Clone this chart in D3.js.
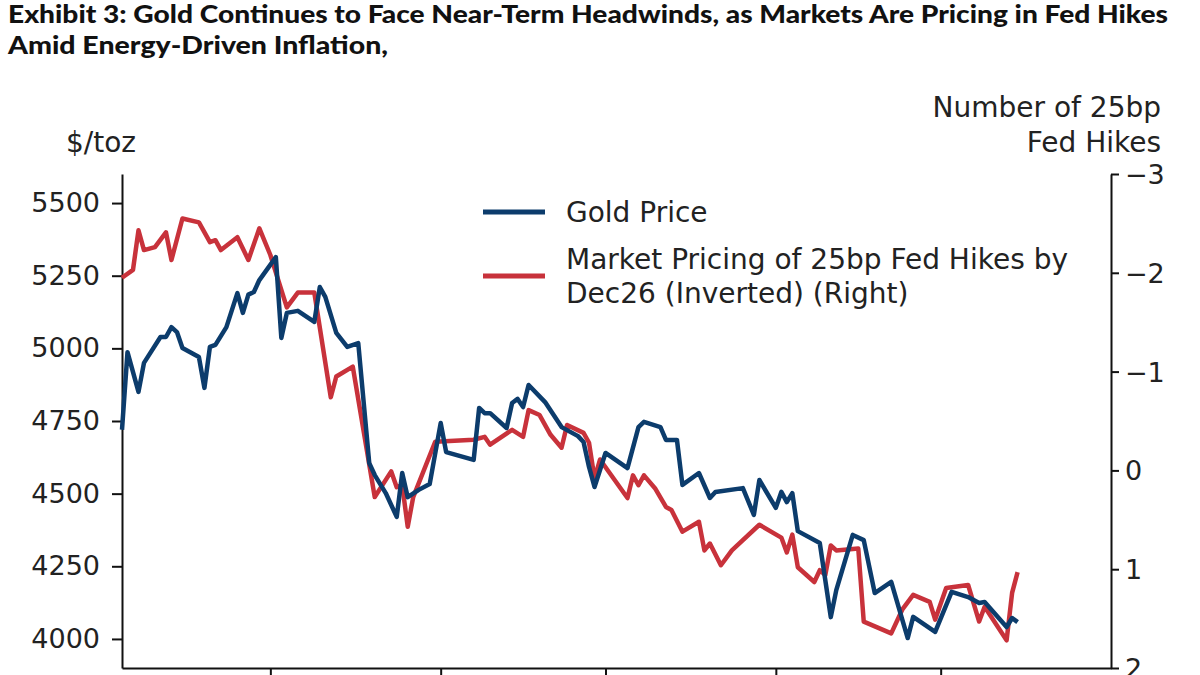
<!DOCTYPE html>
<html>
<head>
<meta charset="utf-8">
<script src="https://cdn.jsdelivr.net/npm/d3@7"></script>
<style>
  body { margin: 0; background: #fff; }
  text { fill: #222; }
</style>
</head>
<body>
<div id="chart"></div>
<script>
// Chart size
var chart_width  = 1200;
var chart_height = 675;

// Data
var goldDates = ['2026-02-02','2026-02-03','2026-02-05','2026-02-06','2026-02-09','2026-02-10','2026-02-11','2026-02-12',
  '2026-02-13','2026-02-16','2026-02-17','2026-02-18','2026-02-19','2026-02-21','2026-02-23','2026-02-24','2026-02-25',
  '2026-02-26','2026-02-27','2026-03-02','2026-03-03','2026-03-04','2026-03-06','2026-03-09','2026-03-10','2026-03-11',
  '2026-03-13','2026-03-15','2026-03-17','2026-03-19','2026-03-20','2026-03-22','2026-03-24','2026-03-25','2026-03-26',
  '2026-03-28','2026-03-30','2026-04-01','2026-04-02','2026-04-07','2026-04-08','2026-04-09','2026-04-10','2026-04-13',
  '2026-04-14','2026-04-15','2026-04-16','2026-04-17','2026-04-20','2026-04-23','2026-04-26','2026-04-27','2026-04-28',
  '2026-04-29','2026-05-01','2026-05-05','2026-05-07','2026-05-08','2026-05-11','2026-05-12','2026-05-14','2026-05-15',
  '2026-05-18','2026-05-20','2026-05-21','2026-05-26','2026-05-28','2026-05-29','2026-06-01','2026-06-02','2026-06-03',
  '2026-06-04','2026-06-05','2026-06-09','2026-06-11','2026-06-12','2026-06-15','2026-06-17','2026-06-19','2026-06-22',
  '2026-06-25','2026-06-26','2026-06-30','2026-07-03','2026-07-06','2026-07-08','2026-07-09','2026-07-13','2026-07-14',
  '2026-07-15'];
var goldPrice = [4720,4987,4850,4950,5039,5039,5073,5056,
  5001,4970,4864,5005,5012,5073,5190,5122,5185,
  5194,5235,5314,5036,5122,5129,5091,5211,5177,
  5053,5005,5018,4605,4564,4502,4420,4571,4488,
  4513,4533,4743,4643,4616,4795,4777,4777,4726,
  4812,4826,4798,4874,4815,4729,4698,4678,4592,
  4523,4640,4588,4729,4747,4729,4685,4685,4530,
  4571,4485,4506,4519,4427,4547,4451,4506,4471,
  4502,4371,4330,4075,4168,4358,4340,4158,4196,
  4003,4076,4024,4162,4144,4124,4127,4041,4072,
  4058];

var hikeDates = ['2026-02-02','2026-02-04','2026-02-05','2026-02-06','2026-02-08','2026-02-10','2026-02-11','2026-02-13',
  '2026-02-16','2026-02-18','2026-02-19','2026-02-20','2026-02-23','2026-02-25','2026-02-27','2026-03-01','2026-03-04',
  '2026-03-06','2026-03-09','2026-03-12','2026-03-13','2026-03-16','2026-03-20','2026-03-23','2026-03-24','2026-03-25',
  '2026-03-26','2026-03-27','2026-03-31','2026-04-07','2026-04-09','2026-04-10','2026-04-14','2026-04-16','2026-04-17',
  '2026-04-19','2026-04-21','2026-04-23','2026-04-24','2026-04-27','2026-04-28','2026-04-29','2026-04-30','2026-05-05',
  '2026-05-06','2026-05-07','2026-05-08','2026-05-10','2026-05-12','2026-05-13','2026-05-15','2026-05-18','2026-05-19',
  '2026-05-20','2026-05-22','2026-05-24','2026-05-29','2026-06-02','2026-06-03','2026-06-04','2026-06-05','2026-06-08',
  '2026-06-09','2026-06-10','2026-06-11','2026-06-12','2026-06-16','2026-06-17','2026-06-22','2026-06-24','2026-06-26',
  '2026-06-29','2026-06-30','2026-07-02','2026-07-06','2026-07-08','2026-07-09','2026-07-13','2026-07-14','2026-07-15'];
// number of 25bp hikes, inverted on the right axis
var hikePricing = [-1.95,-2.03,-2.43,-2.23,-2.26,-2.41,-2.13,-2.55,
  -2.51,-2.31,-2.33,-2.23,-2.36,-2.13,-2.45,-2.18,-1.65,
  -1.80,-1.80,-0.74,-0.95,-1.05,0.27,0.01,0.17,0.15,
  0.57,0.27,-0.29,-0.31,-0.34,-0.26,-0.41,-0.34,-0.61,
  -0.56,-0.36,-0.23,-0.46,-0.38,-0.28,0.08,-0.11,0.28,
  0.05,0.15,0.05,0.18,0.37,0.40,0.62,0.52,0.81,
  0.74,0.96,0.81,0.55,0.68,0.83,0.65,0.98,1.13,
  1.01,1.06,0.76,0.81,0.79,1.53,1.65,1.41,1.26,
  1.33,1.51,1.19,1.16,1.53,1.38,1.72,1.24,1.03];

var leftTicks  = [4000, 4250, 4500, 4750, 5000, 5250, 5500];
var rightTicks = [-3, -2, -1, 0, 1, 2];
var monthTicks = ['2026-03-01','2026-04-01','2026-05-01','2026-06-01','2026-07-01'];
var xDomain    = ['2026-02-02', '2026-08-01'];

var titleLines = ['Exhibit 3: Gold Continues to Face Near-Term Headwinds, as Markets Are Pricing in Fed Hikes',
                  'Amid Energy-Driven Inflation,'];
var legendLabels = [['Gold Price'], ['Market Pricing of 25bp Fed Hikes by', 'Dec26 (Inverted) (Right)']];

var gold_color = '#0c3c6c';
var hike_color = '#c8323b';

var parse = d3.timeParse('%Y-%m-%d');

var svg = d3.select('#chart')
  .append('svg')
  .attr('width', chart_width)
  .attr('height', chart_height);

// Title
svg.selectAll('.title')
  .data(titleLines)
  .enter()
  .append('text')
  .attr('class', 'title')
  .attr('x', 8)
  .attr('y', function(d, i){ return 23 + i * 31; })
  .attr('textLength', function(d, i){ return i === 0 ? 1160 : 380; })
  .attr('lengthAdjust', 'spacingAndGlyphs')
  .style('font-family', 'Lato, sans-serif')
  .style('font-weight', 900)
  .style('font-size', '24px')
  .style('fill', '#111')
  .text(function(d){ return d; });

// Scales
var x = d3.scaleTime()
  .domain(xDomain.map(parse))
  .range([122, 1111]);

var yLeft = d3.scaleLinear()
  .domain([3900, 5600])
  .range([668, 174]);

var yRight = d3.scaleLinear()
  .domain([-3, 2])
  .range([174, 668]);

// Axes
var tickFont = '"DejaVu Sans", sans-serif';
var labelSize = '28px';

var leftAxis = svg.append('g')
  .attr('transform', 'translate(122,0)')
  .call(d3.axisLeft(yLeft).tickValues(leftTicks).tickSize(10).tickPadding(12).tickSizeOuter(0)
    .tickFormat(d3.format('d')));

var rightAxis = svg.append('g')
  .attr('transform', 'translate(1111,0)')
  .call(d3.axisRight(yRight).tickValues(rightTicks).tickSize(8).tickPadding(6).tickSizeOuter(0)
    .tickFormat(function(d){ return d < 0 ? '\u2212' + Math.abs(d) : d; }));

var bottomAxis = svg.append('g')
  .attr('transform', 'translate(0,668)')
  .call(d3.axisBottom(x).tickValues(monthTicks.map(parse)).tickSize(10).tickSizeOuter(0).tickFormat(''));

[leftAxis, rightAxis, bottomAxis].forEach(function(g){
  g.selectAll('path, line').attr('stroke', '#111').attr('stroke-width', 2);
  g.selectAll('text')
    .style('font-family', tickFont)
    .style('font-size', '27px')
    .style('fill', '#222');
});
rightAxis.selectAll('text').attr('dy', '0.35em');

// Axis titles
svg.append('text')
  .attr('x', 101)
  .attr('y', 152)
  .attr('text-anchor', 'middle')
  .style('font-family', tickFont)
  .style('font-size', labelSize)
  .text('$/toz');

svg.selectAll('.rtitle')
  .data(['Number of 25bp', 'Fed Hikes'])
  .enter()
  .append('text')
  .attr('x', 1161)
  .attr('y', function(d, i){ return 117 + i * 35; })
  .attr('text-anchor', 'end')
  .style('font-family', tickFont)
  .style('font-size', labelSize)
  .text(function(d){ return d; });

// Lines
var goldLine = d3.line()
  .x(function(d){ return x(d.date); })
  .y(function(d){ return yLeft(d.value); });

var hikeLine = d3.line()
  .x(function(d){ return x(d.date); })
  .y(function(d){ return yRight(d.value); });

var goldData = goldDates.map(function(d, i){ return {date: parse(d), value: goldPrice[i]}; });
var hikeData = hikeDates.map(function(d, i){ return {date: parse(d), value: hikePricing[i]}; });

svg.append('path')
  .datum(hikeData)
  .attr('d', hikeLine)
  .attr('fill', 'none')
  .attr('stroke', hike_color)
  .attr('stroke-width', 4.5)
  .attr('stroke-linejoin', 'round');

svg.append('path')
  .datum(goldData)
  .attr('d', goldLine)
  .attr('fill', 'none')
  .attr('stroke', gold_color)
  .attr('stroke-width', 4.5)
  .attr('stroke-linejoin', 'round');

// Legend
var legend = svg.append('g').attr('transform', 'translate(483,0)');
var legendColors = [gold_color, hike_color];
var legendY = [212, 276];

legendLabels.forEach(function(lines, i){
  legend.append('line')
    .attr('x1', 0).attr('x2', 62)
    .attr('y1', legendY[i]).attr('y2', legendY[i])
    .attr('stroke', legendColors[i])
    .attr('stroke-width', 5);
  lines.forEach(function(t, j){
    legend.append('text')
      .attr('x', 83)
      .attr('y', legendY[i] + 10 - (lines.length - 1) * 17 + j * 34)
      .style('font-family', tickFont)
      .style('font-size', labelSize)
      .text(t);
  });
});
</script>
</body>
</html>
